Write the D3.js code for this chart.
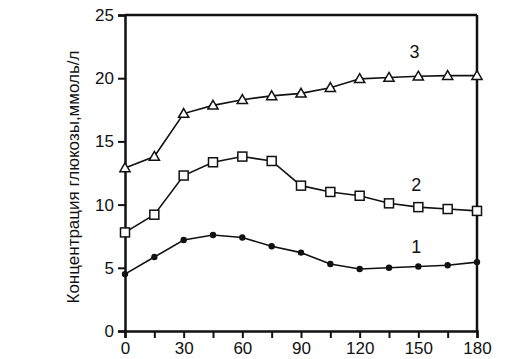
<!DOCTYPE html>
<html><head><meta charset="utf-8">
<script src="https://cdn.jsdelivr.net/npm/d3@7"></script>
<style>body{margin:0;background:#fff}svg{display:block}text{font-family:"Liberation Sans",Arial,sans-serif;fill:#111}</style>
</head><body><svg id="c" width="516" height="359"></svg>
<script>
const times = [0,15,30,45,60,75,90,105,120,135,150,165,180];
const series1 = [4.5,5.85,7.2,7.6,7.4,6.7,6.2,5.3,4.9,5.0,5.1,5.2,5.45];
const series2 = [7.8,9.2,12.3,13.35,13.8,13.45,11.5,11.0,10.7,10.1,9.8,9.65,9.5];
const series3 = [12.9,13.8,17.2,17.85,18.3,18.6,18.8,19.25,19.95,20.05,20.15,20.2,20.2];
const xTicks = [0,15,30,45,60,75,90,105,120,135,150,165,180];
const xLabels = [0,30,60,90,120,150,180];
const yTicks = [0,5,10,15,20,25];
const seriesLabels = ["1","2","3"];
const yTitle = "Концентрация глюкозы,ммоль/л";

const svg = d3.select("#c");
const x = d3.scaleLinear().domain([0,180]).range([125,477]);
const y = d3.scaleLinear().domain([0,25]).range([331,15]);
const ink = "#111";

// frame top and right
svg.append("line").attr("x1",x(0)).attr("x2",x(180)).attr("y1",y(25)).attr("y2",y(25)).attr("stroke",ink).attr("stroke-width",2.5);
svg.append("line").attr("x1",x(180)).attr("x2",x(180)).attr("y1",y(25)).attr("y2",y(0)).attr("stroke",ink).attr("stroke-width",2.5);

const xAxis = svg.append("g").attr("transform",`translate(0,${y(0)})`)
  .call(d3.axisBottom(x).tickValues(xTicks).tickSize(7).tickPadding(2).tickFormat(d => xLabels.includes(d) ? d : ""));
const yAxis = svg.append("g").attr("transform",`translate(${x(0)},0)`)
  .call(d3.axisLeft(y).tickValues(yTicks).tickSize(7));
[xAxis,yAxis].forEach(g=>{
  g.select(".domain").attr("stroke",ink).attr("stroke-width",2.5);
  g.selectAll(".tick line").attr("stroke",ink).attr("stroke-width",2);
  g.selectAll("text").attr("font-size",17).attr("fill",ink).style("font-family","'Liberation Sans',Arial,sans-serif");
});
xAxis.selectAll("text").attr("dy","0.85em");
yAxis.selectAll("text").attr("dx","-1");

svg.append("text").attr("transform",`translate(79,${(y(0)+y(25))/2+4}) rotate(-90)`)
  .attr("text-anchor","middle").attr("font-size",17).text(yTitle);

const line = d3.line().x((d,i)=>x(times[i])).y(d=>y(d));
[series1,series2,series3].forEach(s=>{
  svg.append("path").datum(s).attr("d",line).attr("fill","none").attr("stroke",ink).attr("stroke-width",1.6);
});

// markers
svg.selectAll(".dot").data(series1).join("circle")
  .attr("cx",(d,i)=>x(times[i])).attr("cy",d=>y(d)).attr("r",3.2).attr("fill",ink);
svg.selectAll(".sq").data(series2).join("rect")
  .attr("x",(d,i)=>x(times[i])-4.5).attr("y",d=>y(d)-4.5).attr("width",9).attr("height",9)
  .attr("fill","#fff").attr("stroke",ink).attr("stroke-width",1.5);
const tri = d3.symbol().type(d3.symbolTriangle).size(45);
svg.selectAll(".tri").data(series3).join("path")
  .attr("d",tri).attr("transform",(d,i)=>`translate(${x(times[i])},${y(d)+0.8})`)
  .attr("fill","#fff").attr("stroke",ink).attr("stroke-width",1.5);

// series labels
const labelPos = [[149,6.17],[149,11.08],[148,21.6]];
seriesLabels.forEach((t,i)=>{
  svg.append("text").attr("x",x(labelPos[i][0])).attr("y",y(labelPos[i][1])).attr("font-size",18).attr("text-anchor","middle").text(t);
});
</script></body></html>
